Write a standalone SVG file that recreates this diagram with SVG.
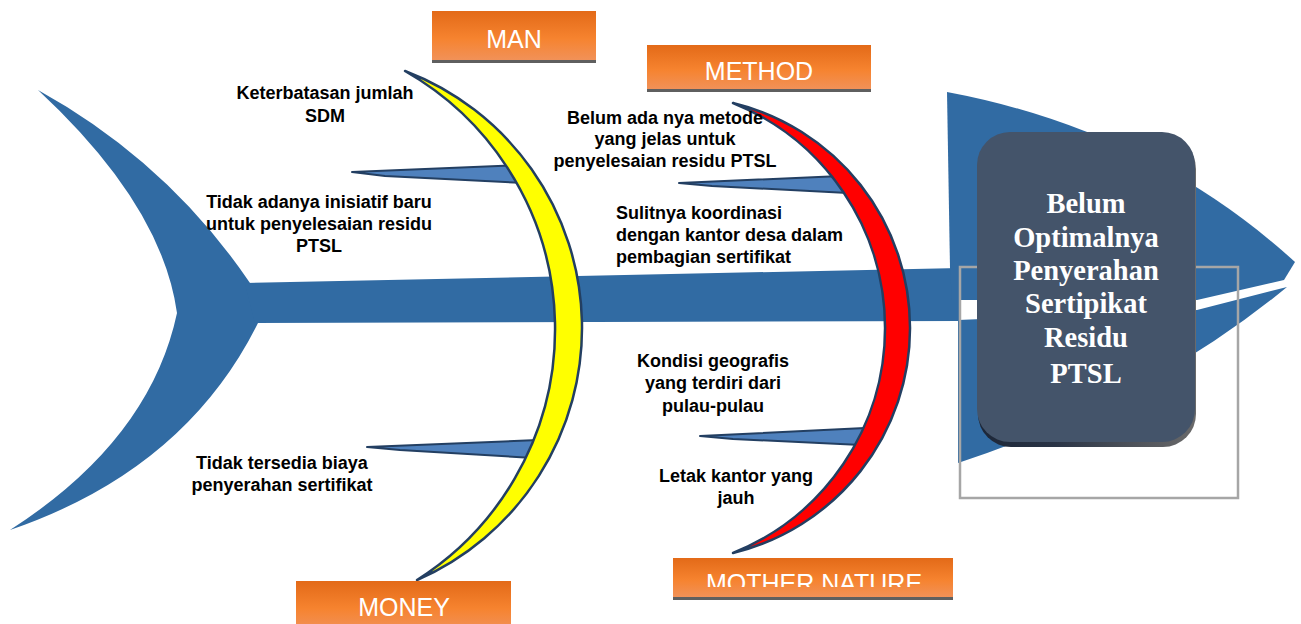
<svg xmlns="http://www.w3.org/2000/svg" width="1301" height="624" viewBox="0 0 1301 624">
<defs>
<linearGradient id="og" x1="0" y1="0" x2="0" y2="1">
<stop offset="0" stop-color="#e36a18"/>
<stop offset="0.55" stop-color="#f6832f"/>
<stop offset="1" stop-color="#f1925a"/>
</linearGradient>
<linearGradient id="boxsh" x1="0" y1="0" x2="1" y2="0">
<stop offset="0" stop-color="#1c2637"/>
<stop offset="0.35" stop-color="#2a3446"/>
<stop offset="1" stop-color="#6a6a6a"/>
</linearGradient>
<clipPath id="clipMN"><rect x="673" y="558" width="280" height="29"/></clipPath>
<style>
.fish{fill:#316ba3;}
.rib{stroke:#233f62;stroke-width:2.5;stroke-linejoin:round;}
.spike{fill:#4f81bd;stroke:#233f62;stroke-width:2;stroke-linejoin:round;}
.cause{font-family:"Liberation Sans",Arial,sans-serif;font-weight:bold;font-size:18px;fill:#000;}
.lbl{font-family:"Liberation Sans",Arial,sans-serif;font-size:25px;fill:#fff;text-anchor:middle;}
.head{font-family:"Liberation Serif","Times New Roman",serif;font-weight:bold;font-size:28.5px;fill:#fff;text-anchor:middle;}
.bar{fill:url(#og);}
.barline{fill:#5f5f5f;}
</style>
</defs>
<rect width="1301" height="624" fill="#ffffff"/>

<g id="skeleton">
<path class="fish" d="M38,90 Q168,162 250,283 L258,323 Q185,470 10,530 Q150,440 177,313 Q162,205 38,90 Z"/>
<path class="fish" d="M245,283 L960,268 L960,321 L255,323 Z"/>
<path class="fish" d="M947,92 Q1150,130 1295,262 L1284,280 L1197,300 L952,300 L950,268 Z"/>
<path class="fish" d="M958,320 L1197,310 L1287,287 Q1150,400 958,463 Z"/>
</g>

<g id="connectors">
<path class="spike" d="M352,172 L520,165 L525,183 L385,176 Z"/>
<path class="spike" d="M367,447 L538,440 L533,458 L400,450 Z"/>
<path class="spike" d="M679,183 L841,176 L848,193 L712,186 Z"/>
<path class="spike" d="M700,436 L865,428 L861,445 L733,439 Z"/>
</g>

<g id="rib-man-money">
<path class="rib" fill="#ffff00" d="M405,71 A275,275 0 0,1 417,580 A297,297 0 0,0 405,71 Z"/>
</g>
<g id="rib-method-nature">
<path class="rib" fill="#ff0000" d="M733,103 A231.5,231.5 0 0,1 733,553 A242.5,242.5 0 0,0 733,103 Z"/>
</g>

<g id="effect">
<rect x="960" y="267" width="278" height="231" fill="none" stroke="#a6a6a6" stroke-width="2.5"/>
<rect x="978" y="136" width="218" height="311" rx="33" fill="url(#boxsh)"/>
<rect x="977" y="132" width="218" height="310" rx="33" fill="#44546a"/>
<text class="head" x="1086" y="213">Belum</text>
<text class="head" x="1086" y="247">Optimalnya</text>
<text class="head" x="1086" y="280">Penyerahan</text>
<text class="head" x="1086" y="313">Sertipikat</text>
<text class="head" x="1086" y="347">Residu</text>
<text class="head" x="1086" y="383">PTSL</text>
</g>

<g id="label-man">
<rect class="bar" x="432" y="11" width="164" height="50"/>
<rect class="barline" x="432" y="60" width="164" height="3"/>
<text class="lbl" x="514" y="48">MAN</text>
</g>
<g id="label-method">
<rect class="bar" x="647" y="45" width="224" height="45"/>
<rect class="barline" x="647" y="89" width="224" height="3"/>
<text class="lbl" x="759" y="80">METHOD</text>
</g>
<g id="label-money">
<rect class="bar" x="296" y="581" width="215" height="50"/>
<text class="lbl" x="404" y="616">MONEY</text>
</g>
<g id="label-nature">
<rect class="bar" x="673" y="558" width="280" height="40"/>
<rect class="barline" x="673" y="597" width="280" height="3"/>
<text class="lbl" x="814" y="592" clip-path="url(#clipMN)">MOTHER NATURE</text>
</g>

<g id="cause-sdm">
<text class="cause" text-anchor="middle" x="325" y="99">Keterbatasan jumlah</text>
<text class="cause" text-anchor="middle" x="325" y="122">SDM</text>
</g>
<g id="cause-inisiatif">
<text class="cause" text-anchor="middle" x="319" y="208">Tidak adanya inisiatif baru</text>
<text class="cause" text-anchor="middle" x="319" y="230">untuk penyelesaian residu</text>
<text class="cause" text-anchor="middle" x="319" y="252">PTSL</text>
</g>
<g id="cause-biaya">
<text class="cause" text-anchor="middle" x="282" y="469">Tidak tersedia biaya</text>
<text class="cause" text-anchor="middle" x="282" y="491">penyerahan sertifikat</text>
</g>
<g id="cause-metode">
<text class="cause" text-anchor="middle" x="665" y="124">Belum ada nya metode</text>
<text class="cause" text-anchor="middle" x="665" y="145">yang jelas untuk</text>
<text class="cause" text-anchor="middle" x="665" y="167">penyelesaian residu PTSL</text>
</g>
<g id="cause-koordinasi">
<text class="cause" x="616" y="219">Sulitnya koordinasi</text>
<text class="cause" x="616" y="241">dengan kantor desa dalam</text>
<text class="cause" x="616" y="263">pembagian sertifikat</text>
</g>
<g id="cause-geografis">
<text class="cause" text-anchor="middle" x="713" y="367">Kondisi geografis</text>
<text class="cause" text-anchor="middle" x="713" y="389">yang terdiri dari</text>
<text class="cause" text-anchor="middle" x="713" y="412">pulau-pulau</text>
</g>
<g id="cause-letak">
<text class="cause" text-anchor="middle" x="736" y="482">Letak kantor yang</text>
<text class="cause" text-anchor="middle" x="736" y="504">jauh</text>
</g>
</svg>
